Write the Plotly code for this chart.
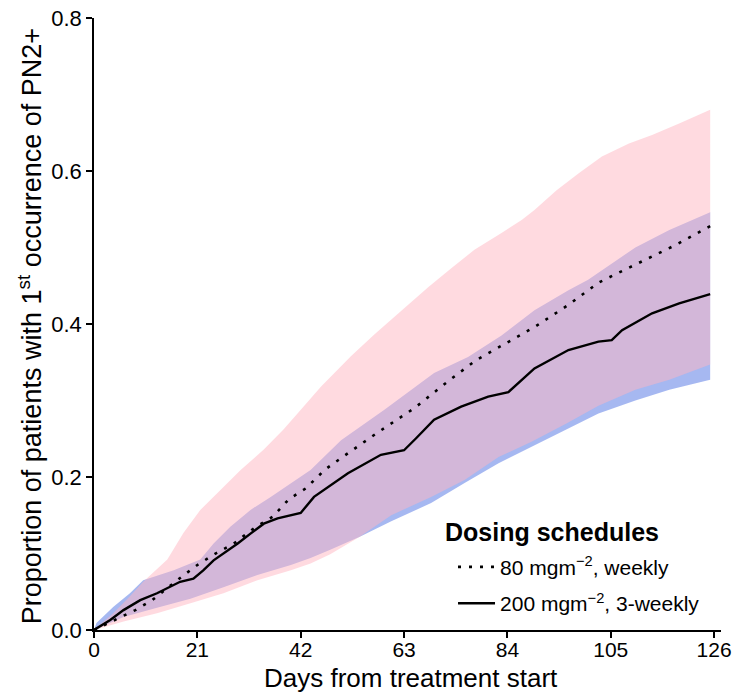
import plotly.graph_objects as go

# ---- data ----
# weekly (80 mg/m2) CI band
weekly_up_days = [0, 3.9, 7.3, 10, 14.9, 18.2, 21.6, 26.3, 29.8, 34.5, 38.5, 42.6, 46.1, 52.2, 56.9,
                  62.4, 67.9, 72.6, 77.3, 82.8, 86.9, 89.5, 94, 98.5, 103.2, 108.7, 113.4, 118.9, 125.2]
weekly_up = [0, 0.022, 0.044, 0.063, 0.092, 0.127, 0.157, 0.187, 0.209, 0.236, 0.262, 0.292, 0.318,
             0.358, 0.386, 0.417, 0.448, 0.473, 0.497, 0.519, 0.536, 0.549, 0.575, 0.597, 0.619,
             0.636, 0.647, 0.662, 0.68]
weekly_lo_days = [0, 6, 12.8, 19.6, 26.3, 33.2, 40, 44, 48, 54, 60.4, 68.5, 75.3, 82.2, 88.9, 96,
                  102.5, 110, 116.9, 125.2]
weekly_lo = [0, 0.011, 0.022, 0.035, 0.048, 0.065, 0.078, 0.087, 0.099, 0.122, 0.15, 0.174, 0.196,
             0.226, 0.246, 0.27, 0.293, 0.314, 0.327, 0.347]

# 3-weekly (200 mg/m2) CI band
tw_up_days = [0, 0.5, 3.9, 7.3, 10, 16.2, 21.6, 24.3, 27.7, 31.8, 35.9, 40, 44, 50.2, 59, 69.1, 76,
              82.8, 89.5, 96.4, 100.4, 110, 116.9, 125.2]
tw_up = [0, 0.009, 0.03, 0.048, 0.065, 0.078, 0.092, 0.113, 0.135, 0.157, 0.174, 0.192, 0.209,
         0.248, 0.288, 0.336, 0.357, 0.385, 0.418, 0.444, 0.458, 0.50, 0.523, 0.546]
tw_lo_days = [0, 6, 12.8, 19.6, 26.3, 33.2, 40, 44, 48, 54, 60.4, 68.5, 75.3, 82.2, 88.9, 96, 102.5,
              110, 116.9, 125.2]
tw_lo = [0, 0.017, 0.029, 0.041, 0.056, 0.072, 0.085, 0.094, 0.105, 0.122, 0.142, 0.166, 0.192,
         0.218, 0.239, 0.262, 0.283, 0.30, 0.314, 0.327]

# median curves
weekly_days = [0, 4.3, 8.4, 11.8, 13.5, 17.5, 21, 24.7, 28.4, 32.5, 36.3, 39.6, 43, 47, 51.6, 57.6,
               65.1, 71.9, 77.7, 83.8, 89.5, 96.4, 102.5, 106.6, 112, 118.1, 125.2]
weekly_med = [0, 0.013, 0.026, 0.039, 0.048, 0.068, 0.085, 0.1, 0.113, 0.133, 0.148, 0.171, 0.185,
              0.21, 0.231, 0.258, 0.29, 0.325, 0.353, 0.375, 0.396, 0.425, 0.454, 0.467, 0.484,
              0.503, 0.528]
tw_days = [0, 3.3, 6, 9.4, 12.8, 15.5, 17.5, 20.2, 22.2, 24.3, 26.3, 29.2, 31.8, 34.5, 37.3, 40, 42,
           44.7, 51.6, 58.3, 63, 65.5, 69.1, 74.6, 80.1, 84.2, 86.9, 89.5, 96.4, 102.5, 105.2, 107.3,
           113.4, 118.9, 125.2]
tw_med = [0, 0.013, 0.026, 0.039, 0.048, 0.057, 0.063, 0.067, 0.078, 0.091, 0.1, 0.113, 0.126, 0.139,
          0.146, 0.15, 0.153, 0.174, 0.205, 0.229, 0.235, 0.251, 0.275, 0.292, 0.305, 0.311, 0.327,
          0.342, 0.366, 0.377, 0.379, 0.392, 0.414, 0.427, 0.439]

x_ticks = [0, 21, 42, 63, 84, 105, 126]
y_ticks = [0.0, 0.2, 0.4, 0.6, 0.8]
x_title = "Days from treatment start"
y_title = "Proportion of patients with 1<sup>st</sup> occurrence of PN2+"
legend_title = "Dosing schedules"
legend_weekly = "80 mgm<sup>\u22122</sup>, weekly"
legend_tw = "200 mgm<sup>\u22122</sup>, 3-weekly"

FONT = "Liberation Sans, Arial, sans-serif"

fig = go.Figure()

# bands
fig.add_trace(go.Scatter(
    x=tw_up_days + tw_lo_days[::-1], y=tw_up + tw_lo[::-1],
    fill="toself", fillcolor="rgba(65,105,225,0.47)", line=dict(width=0),
    mode="lines", showlegend=False, hoverinfo="skip"))
fig.add_trace(go.Scatter(
    x=weekly_up_days + weekly_lo_days[::-1], y=weekly_up + weekly_lo[::-1],
    fill="toself", fillcolor="rgba(255,182,193,0.5)", line=dict(width=0),
    mode="lines", showlegend=False, hoverinfo="skip"))

# lines
fig.add_trace(go.Scatter(
    x=weekly_days, y=weekly_med, mode="lines", name=legend_weekly,
    line=dict(color="black", width=2.6, dash="3px,8px"), legendgroup="a"))
fig.add_trace(go.Scatter(
    x=tw_days, y=tw_med, mode="lines", name=legend_tw,
    line=dict(color="black", width=2.4), legendgroup="b"))

fig.update_layout(
    width=737, height=696,
    margin=dict(l=94, r=16, t=18, b=66),
    paper_bgcolor="white", plot_bgcolor="white",
    font=dict(family=FONT, size=21, color="black"),
    legend=dict(
        x=0.5726, y=0.136, xanchor="left", yanchor="top",
        bgcolor="rgba(0,0,0,0)",
        font=dict(size=21),
        itemwidth=37,
        traceorder="grouped", tracegroupgap=6,
    ),
)
fig.update_xaxes(
    range=[0, 127.4], tickvals=x_ticks, ticktext=[str(t) for t in x_ticks],
    showline=True, linecolor="black", linewidth=1.5,
    ticks="outside", ticklen=6, tickwidth=1.5, tickcolor="black",
    showgrid=False, zeroline=False, automargin=False,
    tickfont=dict(size=21), ticklabelstandoff=-6,
)
fig.update_yaxes(
    range=[0, 0.8], tickvals=y_ticks, ticktext=["%.1f" % t for t in y_ticks],
    showline=True, linecolor="black", linewidth=1.5,
    ticks="outside", ticklen=6, tickwidth=1.5, tickcolor="black",
    showgrid=False, zeroline=False, automargin=False,
    tickfont=dict(size=22),
)

fig.add_annotation(
    text=x_title, xref="paper", yref="paper", x=0.506, y=-0.079,
    xanchor="center", yanchor="middle", showarrow=False, font=dict(size=26))

fig.add_annotation(
    text=y_title,
    xref="paper", yref="paper", x=-0.103, y=0.497, xanchor="center", yanchor="middle",
    textangle=-90, showarrow=False, font=dict(size=27))

fig.add_annotation(
    text="<b>" + legend_title + "</b>",
    xref="paper", yref="paper", x=0.5566, y=0.160, xanchor="left", yanchor="middle",
    showarrow=False, font=dict(size=25))

fig.write_html("out.html")
